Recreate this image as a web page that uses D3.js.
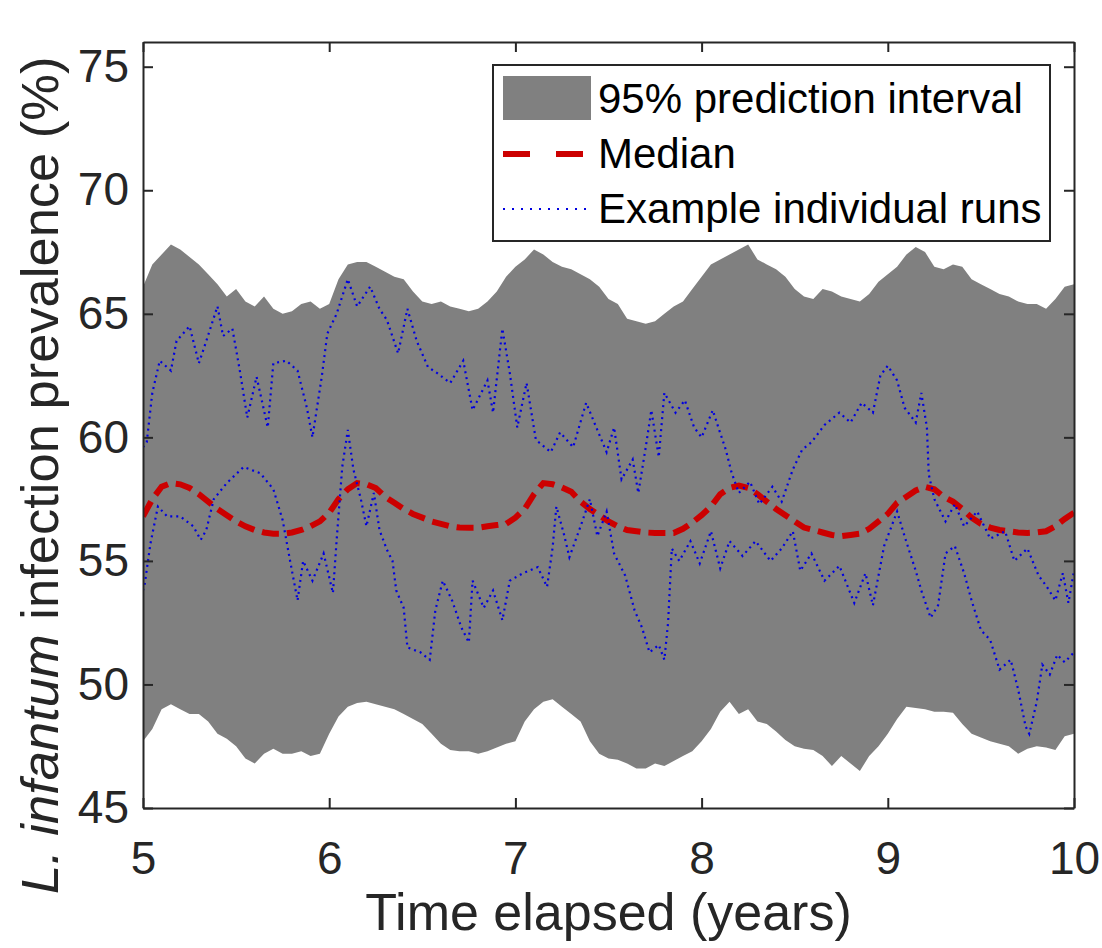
<!DOCTYPE html>
<html>
<head>
<meta charset="utf-8">
<script src="https://cdn.jsdelivr.net/npm/d3@7"></script>
<style>
  body { margin: 0; background: #fff; }
  text { font-family: "Liberation Sans", Arial, Helvetica, sans-serif; }
</style>
</head>
<body>
<div id="chart"></div>
<script>
// time grid of the prediction band and median (years)
const bandTimes = [5.00,5.05,5.10,5.15,5.20,5.25,5.30,5.35,5.40,5.45,
  5.50,5.55,5.60,5.65,5.70,5.75,5.80,5.85,5.90,5.95,
  6.00,6.05,6.10,6.15,6.20,6.25,6.30,6.35,6.40,6.45,
  6.50,6.55,6.60,6.65,6.70,6.75,6.80,6.85,6.90,6.95,
  7.00,7.05,7.10,7.15,7.20,7.25,7.30,7.35,7.40,7.45,
  7.50,7.55,7.60,7.65,7.70,7.75,7.80,7.85,7.90,7.95,
  8.00,8.05,8.10,8.15,8.20,8.25,8.30,8.35,8.40,8.45,
  8.50,8.55,8.60,8.65,8.70,8.75,8.80,8.85,8.90,8.95,
  9.00,9.05,9.10,9.15,9.20,9.25,9.30,9.35,9.40,9.45,
  9.50,9.55,9.60,9.65,9.70,9.75,9.80,9.85,9.90,9.95,
  10.00];

// 95% prediction interval, upper and lower bounds (%)
const upper = [66.1,67.0,67.4,67.8,67.6,67.3,67.0,66.6,66.2,65.7,
  66.0,65.5,65.3,65.7,65.2,65.0,65.1,65.4,65.5,65.2,
  65.4,66.4,67.0,67.1,67.1,66.9,66.7,66.5,66.4,65.9,
  65.5,65.4,65.5,65.3,65.2,65.1,65.2,65.5,65.9,66.5,
  66.9,67.2,67.6,67.4,67.1,66.9,66.8,66.6,66.4,66.1,
  65.6,65.4,64.8,64.7,64.6,64.7,65.0,65.3,65.5,66.0,
  66.5,67.0,67.2,67.4,67.6,67.8,67.2,67.0,66.8,66.5,
  66.0,65.7,65.6,66.0,65.9,65.7,65.6,65.5,65.8,66.3,
  66.6,66.9,67.4,67.7,67.5,66.9,66.8,67.0,66.9,66.4,
  66.2,66.0,65.8,65.7,65.5,65.4,65.4,65.2,65.6,66.1,
  66.2];
const lower = [47.7,48.2,49.0,49.2,49.0,48.8,48.8,48.5,48.0,47.8,
  47.5,47.0,46.8,47.2,47.4,47.2,47.2,47.3,47.1,47.2,
  48.0,48.7,49.1,49.25,49.3,49.2,49.1,49.0,48.8,48.6,
  48.4,48.0,47.6,47.35,47.3,47.3,47.2,47.3,47.45,47.6,
  47.7,48.5,49.0,49.3,49.4,49.1,48.8,48.5,47.7,47.2,
  47.0,46.95,46.8,46.6,46.6,46.8,46.7,46.9,47.1,47.3,
  47.7,48.2,48.9,49.3,48.8,49.0,48.5,48.4,48.1,47.75,
  47.5,47.4,47.35,47.1,46.7,47.1,46.8,46.5,47.1,47.5,
  48.0,48.6,49.1,49.05,49.0,48.9,48.9,48.85,48.4,48.0,
  47.85,47.7,47.6,47.5,47.2,47.4,47.5,47.45,47.35,47.9,
  48.0];

// median (%)
const median = [56.8,57.5,58.0,58.15,58.1,57.95,57.7,57.4,57.1,56.85,
  56.6,56.4,56.25,56.15,56.1,56.1,56.15,56.25,56.4,56.6,
  56.95,57.5,57.9,58.15,58.1,57.95,57.6,57.35,57.1,56.9,
  56.75,56.6,56.5,56.4,56.35,56.34,56.34,56.4,56.45,56.5,
  56.75,57.1,57.7,58.15,58.1,57.97,57.8,57.4,57.1,56.85,
  56.6,56.4,56.25,56.2,56.15,56.13,56.13,56.13,56.3,56.55,
  56.85,57.2,57.7,57.95,58.05,57.95,57.7,57.4,57.1,56.85,
  56.6,56.35,56.25,56.15,56.05,56.0,56.05,56.1,56.3,56.6,
  56.9,57.35,57.6,57.85,58.0,57.9,57.6,57.4,57.1,56.75,
  56.5,56.35,56.25,56.2,56.15,56.13,56.15,56.2,56.4,56.7,
  56.95];

// example individual run 1
const runATimes = [5.00,5.02,5.05,5.09,5.15,5.18,5.25,5.30,5.34,5.40,5.43,5.48,5.52,5.56,5.61,5.67,5.70,5.77,5.83,5.88,
  5.91,5.96,5.99,6.04,6.10,6.15,6.22,6.27,6.31,6.37,6.42,6.47,6.53,6.58,6.65,6.72,6.77,6.85,6.88,6.93,
  6.97,7.01,7.06,7.11,7.19,7.24,7.31,7.38,7.44,7.49,7.53,7.57,7.63,7.66,7.70,7.73,7.77,7.80,7.86,7.91,
  7.96,8.00,8.06,8.09,8.13,8.16,8.20,8.26,8.31,8.38,8.43,8.49,8.54,8.59,8.66,8.74,8.80,8.86,8.92,8.96,
  9.00,9.05,9.09,9.15,9.18,9.21,9.22,9.25,9.31,9.36,9.41,9.48,9.55,9.63,9.68,9.75,9.81,9.85,9.90,9.94,
  9.97,10.00];
const runAValues = [59.6,59.8,61.8,63.1,62.7,63.9,64.5,63.0,63.9,65.3,64.1,64.4,62.7,60.8,62.45,60.4,63.0,63.1,62.7,61.2,
  60.0,62.45,64.2,65.0,66.4,65.3,66.1,65.2,64.75,63.4,65.2,63.9,62.85,62.6,62.2,63.1,61.1,62.3,61.0,64.4,
  62.6,60.4,62.2,59.9,59.4,60.2,59.6,61.4,60.3,59.4,60.4,58.3,59.1,57.75,59.6,61.1,59.2,61.8,61.0,61.5,
  60.4,60.0,61.1,60.4,59.5,58.6,57.75,58.2,57.3,58.0,57.4,58.7,59.5,59.8,60.5,61.0,60.6,61.4,61.0,62.5,
  62.9,62.3,61.2,60.6,61.8,60.4,58.5,57.5,56.6,57.3,56.4,57.0,55.9,56.2,55.0,55.5,54.4,54.0,53.4,54.5,
  53.3,54.6];

// example individual run 2
const runBTimes = [5.00,5.01,5.04,5.08,5.13,5.20,5.27,5.31,5.34,5.38,5.45,5.54,5.63,5.70,5.75,5.79,5.83,5.86,5.91,5.97,
  6.02,6.04,6.07,6.10,6.13,6.17,6.20,6.24,6.27,6.31,6.34,6.36,6.40,6.42,6.49,6.54,6.57,6.61,6.66,6.71,
  6.75,6.77,6.83,6.88,6.93,6.97,7.04,7.12,7.17,7.20,7.22,7.26,7.29,7.35,7.40,7.44,7.49,7.53,7.59,7.64,
  7.68,7.72,7.77,7.80,7.82,7.84,7.88,7.94,7.99,8.05,8.10,8.15,8.22,8.29,8.37,8.43,8.49,8.53,8.59,8.66,
  8.74,8.82,8.88,8.92,8.98,9.05,9.09,9.15,9.18,9.23,9.27,9.31,9.36,9.41,9.45,9.50,9.55,9.60,9.66,9.70,
  9.74,9.76,9.80,9.83,9.87,9.91,9.95,10.00];
const runBValues = [53.8,54.1,55.7,57.2,56.8,56.8,56.4,55.85,56.25,57.5,58.15,58.8,58.55,57.9,56.65,55.0,53.4,55.0,54.2,55.3,
  53.7,55.85,58.8,60.3,58.7,57.5,56.4,57.75,56.25,55.45,55.0,53.8,53.1,51.5,51.3,51.0,53.0,54.2,53.4,52.3,
  51.7,54.2,53.1,53.8,52.6,54.2,54.5,54.75,53.95,55.55,57.2,56.1,55.15,56.4,57.5,56.0,57.0,55.3,54.4,53.0,
  52.3,51.3,51.6,51.0,52.5,55.5,55.0,55.8,54.9,56.2,54.7,55.8,55.2,55.8,55.0,55.5,56.2,54.6,55.3,54.2,
  54.8,53.3,54.5,53.2,55.6,57.0,56.0,54.6,53.8,52.7,53.2,55.3,55.6,54.5,53.4,52.2,51.8,50.6,51.0,49.8,
  48.3,48.0,49.3,50.8,50.4,51.2,50.9,51.3];

const xTicks = [5, 6, 7, 8, 9, 10];
const yTicks = [45, 50, 55, 60, 65, 70, 75];
const legendLabels = ["95% prediction interval", "Median", "Example individual runs"];

const W = 1102, H = 948;
const margin = { top: 42, right: 28, bottom: 140, left: 143 };
const axisColor = "#262626";

const svg = d3.select("#chart").append("svg")
    .attr("width", W)
    .attr("height", H);

const x = d3.scaleLinear().domain([5, 10]).range([margin.left, W - margin.right]);
const y = d3.scaleLinear().domain([45, 76]).range([H - margin.bottom, margin.top]);

svg.append("clipPath").attr("id", "plotClip")
  .append("rect")
    .attr("x", x(5)).attr("y", y(76))
    .attr("width", x(10) - x(5)).attr("height", y(45) - y(76));

const plot = svg.append("g").attr("clip-path", "url(#plotClip)");

// prediction band
const bandData = d3.zip(bandTimes, lower, upper);
plot.append("path")
    .datum(bandData)
    .attr("fill", "#808080")
    .attr("d", d3.area().x(d => x(d[0])).y0(d => y(d[1])).y1(d => y(d[2])));

// median
plot.append("path")
    .datum(d3.zip(bandTimes, median))
    .attr("fill", "none")
    .attr("stroke", "#cc0000")
    .attr("stroke-width", 6)
    .attr("stroke-dasharray", "17 8")
    .attr("d", d3.line().x(d => x(d[0])).y(d => y(d[1])));

// individual runs
const runLine = d3.line().x(d => x(d[0])).y(d => y(d[1]));
[[runATimes, runAValues], [runBTimes, runBValues]].forEach(([t, v]) => {
  plot.append("path")
      .datum(d3.zip(t, v))
      .attr("fill", "none")
      .attr("stroke", "#0000e0")
      .attr("stroke-width", 2.2)
      .attr("stroke-dasharray", "2 4")
      .attr("d", runLine);
});

// axes (MATLAB style, ticks inside, box on)
function styleAxis(g) {
  g.selectAll("path.domain").attr("stroke", axisColor).attr("stroke-width", 2);
  g.selectAll(".tick line").attr("stroke", axisColor).attr("stroke-width", 2);
  g.selectAll(".tick text").attr("fill", axisColor).style("font-size", "46px")
      .style("font-family", "'Liberation Sans', Arial, Helvetica, sans-serif");
}

svg.append("g")
    .attr("transform", `translate(0,${y(45)})`)
    .call(d3.axisBottom(x).tickValues(xTicks).tickFormat(d3.format("d"))
      .tickSize(-10).tickSizeOuter(0).tickPadding(33))
    .call(styleAxis);

svg.append("g")
    .attr("transform", `translate(0,${y(76)})`)
    .call(d3.axisTop(x).tickValues(xTicks).tickSize(-10).tickSizeOuter(0).tickFormat(""))
    .call(styleAxis);

svg.append("g")
    .attr("transform", `translate(${x(5)},0)`)
    .call(d3.axisLeft(y).tickValues(yTicks).tickFormat(d3.format("d"))
      .tickSize(-10).tickSizeOuter(0).tickPadding(14))
    .call(styleAxis);

svg.append("g")
    .attr("transform", `translate(${x(10)},0)`)
    .call(d3.axisRight(y).tickValues(yTicks).tickSize(-10).tickSizeOuter(0).tickFormat(""))
    .call(styleAxis);

// axis labels
svg.append("text")
    .attr("x", (x(5) + x(10)) / 2)
    .attr("y", 930)
    .attr("text-anchor", "middle")
    .attr("fill", axisColor)
    .style("font-size", "52px")
    .text("Time elapsed (years)");

const yLabel = svg.append("text")
    .attr("transform", "translate(58,894) rotate(-90)")
    .attr("text-anchor", "start")
    .attr("fill", axisColor)
    .style("font-size", "52.5px");
yLabel.append("tspan").style("font-style", "italic").text("L. infantum");
yLabel.append("tspan").text(" infection prevalence (%)");

// legend
const legend = svg.append("g");
legend.append("rect")
    .attr("x", 493).attr("y", 65)
    .attr("width", 557).attr("height", 176)
    .attr("fill", "#fff")
    .attr("stroke", "#262626")
    .attr("stroke-width", 2);

legend.append("rect")
    .attr("x", 503).attr("y", 76)
    .attr("width", 88).attr("height", 44)
    .attr("fill", "#808080");

legend.append("line")
    .attr("x1", 503).attr("x2", 583)
    .attr("y1", 154).attr("y2", 154)
    .attr("stroke", "#cc0000")
    .attr("stroke-width", 6)
    .attr("stroke-dasharray", "27 26");

legend.append("line")
    .attr("x1", 503).attr("x2", 587)
    .attr("y1", 209).attr("y2", 209)
    .attr("stroke", "#0000e0")
    .attr("stroke-width", 2.2)
    .attr("stroke-dasharray", "2 7");

legend.selectAll("text.lab")
    .data(legendLabels)
    .enter().append("text")
    .attr("class", "lab")
    .attr("x", 598)
    .attr("y", (d, i) => 113 + i * 55)
    .attr("fill", "#000")
    .style("font-size", "42px")
    .text(d => d);
</script>
</body>
</html>
